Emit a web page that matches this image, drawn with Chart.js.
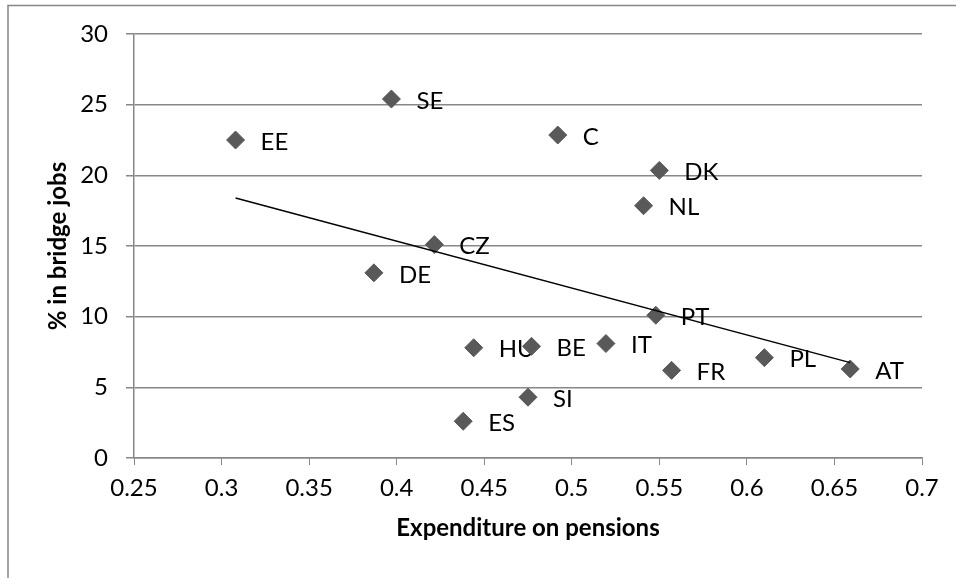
<!DOCTYPE html>
<html>
<head>
<meta charset="utf-8">
<script src="https://cdn.jsdelivr.net/npm/chart.js@4/dist/chart.umd.min.js"></script>
<style>
  html, body { margin: 0; padding: 0; background: #fff; }
  #wrap { position: relative; width: 956px; height: 578px; }
</style>
</head>
<body>
<div id="wrap"><canvas id="c" width="956" height="578"></canvas></div>
<script>
const countries = ["EE", "SE", "C", "DK", "NL", "CZ", "DE", "PT", "IT", "FR", "PL", "AT", "HU", "BE", "SI", "ES"];
const pensionExpenditure = [0.308, 0.397, 0.492, 0.550, 0.541, 0.4215, 0.387, 0.548, 0.5195, 0.557, 0.610, 0.659, 0.444, 0.477, 0.475, 0.438];
const bridgeJobsPct = [22.5, 25.4, 22.85, 20.35, 17.85, 15.1, 13.1, 10.1, 8.1, 6.2, 7.1, 6.3, 7.8, 7.9, 4.3, 2.6];
const trendX = [0.308, 0.659];
const trendY = [18.4, 6.75];
const xTicks = [0.25, 0.3, 0.35, 0.4, 0.45, 0.5, 0.55, 0.6, 0.65, 0.7];
const yTicks = [0, 5, 10, 15, 20, 25, 30];

const GRAY = '#878787';
const FONT = 'Lato';
const FS = 24;

const points = countries.map((c, i) => ({ x: pensionExpenditure[i], y: bridgeJobsPct[i], label: c }));
const trend = trendX.map((x, i) => ({ x: x, y: trendY[i] }));

const labelPlugin = {
  id: 'pointLabels',
  beforeDatasetsDraw(chart) {
    const ctx = chart.ctx;
    const xs = chart.scales.x, ys = chart.scales.y;
    ctx.save();
    ctx.font = FS + 'px ' + FONT;
    ctx.fillStyle = '#000';
    ctx.textAlign = 'left';
    ctx.textBaseline = 'middle';
    points.forEach(p => {
      ctx.fillText(p.label, xs.getPixelForValue(p.x) + 25, ys.getPixelForValue(p.y) + 2);
    });
    ctx.restore();
  }
};

const framePlugin = {
  id: 'frame',
  beforeDraw(chart) {
    const ctx = chart.ctx;
    ctx.save();
    ctx.strokeStyle = GRAY;
    ctx.lineWidth = 1.5;
    ctx.beginPath();
    ctx.moveTo(8, 578);
    ctx.lineTo(8, 5.5);
    ctx.lineTo(956, 5.5);
    ctx.stroke();
    ctx.restore();
  }
};

new Chart(document.getElementById('c'), {
  type: 'scatter',
  data: {
    datasets: [
      {
        type: 'scatter',
        data: points,
        pointStyle: 'rectRot',
        pointRadius: 9,
        pointHoverRadius: 9,
        backgroundColor: '#595959',
        borderColor: '#595959',
        borderWidth: 1,
        order: 1
      },
      {
        type: 'line',
        data: trend,
        borderColor: '#000',
        borderWidth: 1.5,
        pointRadius: 0,
        fill: false,
        order: 0
      }
    ]
  },
  options: {
    responsive: false,
    animation: false,
    devicePixelRatio: 1,
    layout: { padding: { left: 0, top: 34, right: 34, bottom: 0 } },
    plugins: { legend: { display: false }, tooltip: { enabled: false } },
    scales: {
      x: {
        type: 'linear',
        min: 0.25, max: 0.7,
        afterBuildTicks(scale) { scale.ticks = xTicks.map(v => ({ value: v })); },
        afterFit(scale) { scale.height = 120; },
        grid: { display: true, drawOnChartArea: false, drawTicks: true, tickLength: 7, color: GRAY, lineWidth: 1 },
        border: { display: true, color: GRAY, width: 1.5 },
        ticks: {
          color: '#000', font: { family: FONT, size: FS }, padding: 9,
          maxRotation: 0, autoSkip: false,
          callback: v => String(v)
        },
        title: {
          display: true, text: 'Expenditure on pensions', color: '#000',
          font: { family: FONT, size: FS, weight: 'bold' },
          padding: { top: 0, bottom: 35.6 }
        }
      },
      y: {
        type: 'linear',
        min: 0, max: 30,
        afterBuildTicks(scale) { scale.ticks = yTicks.map(v => ({ value: v })); },
        afterFit(scale) { scale.width = 134; },
        grid: { display: true, drawOnChartArea: true, drawTicks: true, tickLength: 8, color: GRAY, lineWidth: 1.5 },
        border: { display: true, color: GRAY, width: 1.5 },
        ticks: {
          color: '#000', font: { family: FONT, size: FS }, padding: 18,
          callback: v => String(v)
        },
        title: {
          display: true, text: '% in bridge jobs', color: '#000',
          font: { family: FONT, size: FS, weight: 'bold' },
          padding: { top: 43.6, bottom: 0 }
        }
      }
    }
  },
  plugins: [framePlugin, labelPlugin]
});
</script>
</body>
</html>
